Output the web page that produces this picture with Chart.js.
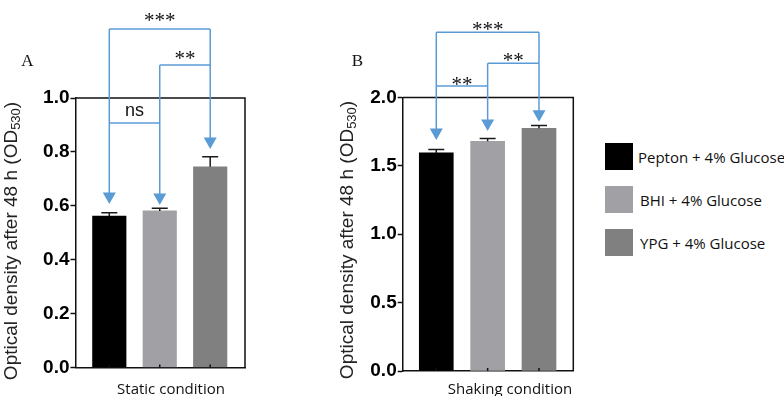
<!DOCTYPE html>
<html>
<head>
<meta charset="utf-8">
<title>Optical density - static vs shaking</title>
<script src="https://cdn.jsdelivr.net/npm/chart.js@4.4.1/dist/chart.umd.min.js"></script>
<style>
  html, body { margin: 0; padding: 0; background: #fff; }
  #wrap { position: relative; width: 784px; height: 396px; overflow: hidden; }
  #wrap canvas { position: absolute; top: 0; }
  #chartA { left: 0; }
  #chartB { left: 300px; }
  .leg-row { position: absolute; left: 605px; height: 27px; display: flex; align-items: center;
             font: 15px "Open Sans", sans-serif; color: #111; white-space: nowrap; }
  .leg-box { width: 28px; height: 27px; margin-right: 5px; }
</style>
</head>
<body>
<div id="wrap">
  <canvas id="chartA" width="300" height="396"></canvas>
  <canvas id="chartB" width="290" height="396"></canvas>
  <div id="legend"></div>
</div>
<script>
// --- DATA ---
const categories = ['Pepton + 4% Glucose', 'BHI + 4% Glucose', 'YPG + 4% Glucose'];
const barColors = ['#000000', '#a1a1a5', '#808080'];

const staticValues = [0.562, 0.581, 0.745];
const staticErrors = [0.012, 0.010, 0.037];
const staticTicks = [0.0, 0.2, 0.4, 0.6, 0.8, 1.0];

const shakingValues = [1.595, 1.680, 1.775];
const shakingErrors = [0.025, 0.020, 0.020];
const shakingTicks = [0.0, 0.5, 1.0, 1.5, 2.0];

// significance comparisons: [bar, bar, label]
const staticSig = [[0, 2, '***'], [1, 2, '**'], [0, 1, 'ns']];
const shakingSig = [[0, 2, '***'], [1, 2, '**'], [0, 1, '**']];

const yTitle = 'Optical density after 48 h (OD';
const ySub = '530';

Chart.defaults.font.family = '"Liberation Sans", Arial, sans-serif';
Chart.defaults.color = '#000';

// --- PANELS (layout + bracket heights in axis units) ---
const panels = [
  {
    canvas: 'chartA', letter: 'A', letterPos: [27.5, 62], xTitle: 'Static condition', xTitlePos: [171, 394],
    values: staticValues, errors: staticErrors, ticks: staticTicks, sig: staticSig,
    area: { left: 75.5, right: 245, top: 98, bottom: 367.5 }, width: 300,
    xRange: [0.33, 3.69], barWidth: 33.5,
    levels: [1.256, 1.122, 0.907], tips: [0.607, 0.603, 0.811], labelGap: [12, 10, 12],
    titleX: 11.5, titleY: 241
  },
  {
    canvas: 'chartB', letter: 'B', letterPos: [57.5, 62], xTitle: 'Shaking condition', xTitlePos: [210, 393.5],
    values: shakingValues, errors: shakingErrors, ticks: shakingTicks, sig: shakingSig,
    area: { left: 102.7, right: 273.3, top: 97.5, bottom: 371 }, width: 290,
    xRange: [0.346, 3.668], barWidth: 34,
    levels: [2.477, 2.25, 2.084], tips: [1.689, 1.755, 1.823], labelGap: [6, 6, 5],
    titleX: 47.5, titleY: 240
  }
];

function makeOverlay(p) {
  return {
    id: 'overlay',
    afterDraw(chart) {
      const { ctx, chartArea: a, scales: { x, y } } = chart;
      ctx.save();

      // frame top + right
      ctx.strokeStyle = '#111';
      ctx.lineWidth = 1.5;
      ctx.beginPath();
      ctx.moveTo(a.left, a.top);
      ctx.lineTo(a.right, a.top);
      ctx.lineTo(a.right, a.bottom);
      ctx.stroke();

      // small inward ticks at bar centres
      p.values.forEach((v, i) => {
        const cx = x.getPixelForValue(i + 1);
        ctx.beginPath();
        ctx.moveTo(cx, a.bottom);
        ctx.lineTo(cx, a.bottom - 3);
        ctx.stroke();
      });

      // error bars (upper half)
      ctx.strokeStyle = '#1a1a1a';
      p.values.forEach((v, i) => {
        const cx = x.getPixelForValue(i + 1);
        const y0 = y.getPixelForValue(v);
        const y1 = y.getPixelForValue(v + p.errors[i]);
        ctx.beginPath();
        ctx.moveTo(cx, y0);
        ctx.lineTo(cx, y1);
        ctx.moveTo(cx - 8, y1);
        ctx.lineTo(cx + 8, y1);
        ctx.stroke();
      });

      // significance arrows
      const blue = '#5b9bd5';
      ctx.strokeStyle = blue;
      ctx.fillStyle = blue;
      ctx.lineWidth = 1.5;
      p.values.forEach((v, i) => {
        let top = -Infinity;
        p.sig.forEach((s, k) => { if (s[0] === i || s[1] === i) top = Math.max(top, p.levels[k]); });
        const cx = x.getPixelForValue(i + 1);
        const yTop = y.getPixelForValue(top);
        const yTip = y.getPixelForValue(p.tips[i]);
        ctx.beginPath();
        ctx.moveTo(cx, yTop);
        ctx.lineTo(cx, yTip - 10);
        ctx.stroke();
        ctx.beginPath();
        ctx.moveTo(cx - 6.5, yTip - 11.5);
        ctx.lineTo(cx + 6.5, yTip - 11.5);
        ctx.lineTo(cx, yTip);
        ctx.closePath();
        ctx.fill();
      });

      // brackets + labels
      p.sig.forEach((s, k) => {
        const x0 = x.getPixelForValue(s[0] + 1);
        const x1 = x.getPixelForValue(s[1] + 1);
        const ly = y.getPixelForValue(p.levels[k]);
        ctx.strokeStyle = blue;
        ctx.beginPath();
        ctx.moveTo(x0, ly);
        ctx.lineTo(x1, ly);
        ctx.stroke();

        const star = s[2].indexOf('*') >= 0;
        ctx.font = star ? '21px "Liberation Serif", "Times New Roman", serif'
                        : '18px "Liberation Sans", Arial, sans-serif';
        ctx.fillStyle = '#111';
        ctx.textAlign = 'center';
        ctx.textBaseline = 'alphabetic';
        const m = ctx.measureText(s[2]);
        const yc = ly - p.labelGap[k];
        const base = yc + (m.actualBoundingBoxAscent - m.actualBoundingBoxDescent) / 2;
        ctx.fillText(s[2], (x0 + x1) / 2, base);
      });

      // panel letter
      ctx.font = '17px "Liberation Serif", "Times New Roman", serif';
      ctx.fillStyle = '#111';
      ctx.textAlign = 'center';
      ctx.textBaseline = 'middle';
      ctx.fillText(p.letter, p.letterPos[0], p.letterPos[1]);

      // x title
      ctx.font = '15px "Open Sans", sans-serif';
      ctx.textBaseline = 'alphabetic';
      ctx.fillText(p.xTitle, p.xTitlePos[0], p.xTitlePos[1]);

      // rotated y title with subscript
      const mainFont = '19px "Liberation Sans", Arial, sans-serif';
      const subFont = '13px "Liberation Sans", Arial, sans-serif';
      ctx.translate(p.titleX, p.titleY);
      ctx.rotate(-Math.PI / 2);
      ctx.textAlign = 'left';
      ctx.textBaseline = 'middle';
      ctx.font = mainFont;
      const w1 = ctx.measureText(yTitle).width;
      const w3 = ctx.measureText(')').width;
      ctx.font = subFont;
      const w2 = ctx.measureText(ySub).width;
      let tx = -(w1 + w2 + w3) / 2;
      ctx.fillStyle = '#222';
      ctx.font = mainFont;
      ctx.fillText(yTitle, tx, 0);
      tx += w1;
      ctx.font = subFont;
      ctx.fillText(ySub, tx, 5);
      tx += w2;
      ctx.font = mainFont;
      ctx.fillText(')', tx, 0);

      ctx.restore();
    }
  };
}

panels.forEach(p => {
  const a = p.area;
  new Chart(document.getElementById(p.canvas), {
    type: 'bar',
    data: {
      labels: categories,
      datasets: [{
        label: 'OD530',
        data: p.values.map((v, i) => ({ x: i + 1, y: v })),
        backgroundColor: barColors,
        borderWidth: 0,
        barThickness: p.barWidth
      }]
    },
    options: {
      responsive: false,
      animation: false,
      layout: { padding: { top: a.top, right: p.width - a.right, bottom: 0, left: 0 } },
      plugins: { legend: { display: false }, tooltip: { enabled: false } },
      scales: {
        x: {
          type: 'linear',
          offset: false,
          bounds: 'data',
          min: p.xRange[0],
          max: p.xRange[1],
          ticks: { display: false },
          grid: { display: false, offset: false },
          border: { display: true, color: '#111', width: 1.5 },
          afterFit: s => { s.height = 396 - a.bottom; }
        },
        y: {
          min: p.ticks[0],
          max: p.ticks[p.ticks.length - 1],
          afterBuildTicks: s => { s.ticks = p.ticks.map(v => ({ value: v })); },
          ticks: {
            callback: v => Number(v).toFixed(1),
            font: { size: 19, weight: 'bold' },
            color: '#000',
            padding: 1
          },
          grid: { drawOnChartArea: false, drawTicks: true, tickLength: 5, tickColor: '#111', tickWidth: 1.5 },
          border: { display: true, color: '#111', width: 1.5 },
          afterFit: s => { s.width = a.left; }
        }
      }
    },
    plugins: [makeOverlay(p)]
  });
});

// --- LEGEND ---
const legendTops = [143, 186, 229];
const legend = document.getElementById('legend');
categories.forEach((name, i) => {
  const row = document.createElement('div');
  row.className = 'leg-row';
  row.style.top = legendTops[i] + 'px';
  const box = document.createElement('span');
  box.className = 'leg-box';
  box.style.background = barColors[i];
  if (i > 0) box.style.marginRight = '7px';
  row.appendChild(box);
  row.appendChild(document.createTextNode(name));
  legend.appendChild(row);
});
</script>
</body>
</html>
